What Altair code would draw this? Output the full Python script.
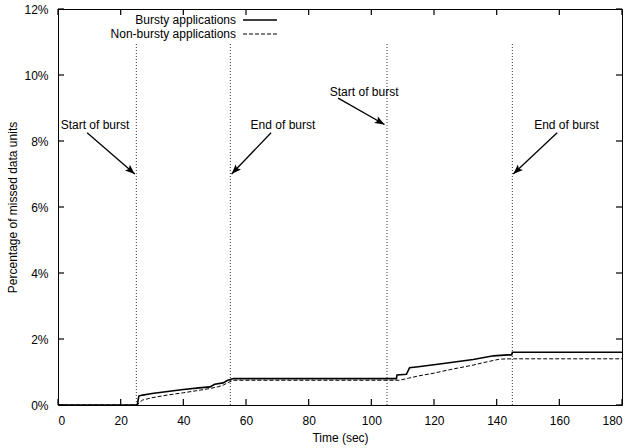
import math
import altair as alt
import pandas as pd

# ---- data ----
burst_t = [0, 25.3, 25.8, 27, 30, 35, 40, 45, 48.5, 50, 52.7, 54, 56, 105, 108, 108.2, 111.2, 112.2,
           115, 123, 132.5, 139, 143.5, 144.8, 145, 180]
burst_p = [0, 0, 0.27, 0.3, 0.35, 0.41, 0.47, 0.52, 0.55, 0.63, 0.67, 0.74, 0.8, 0.8, 0.8, 0.91, 0.93, 1.13,
           1.16, 1.26, 1.38, 1.49, 1.52, 1.52, 1.6, 1.6]
nb_t = [0, 25.3, 26, 27, 30, 34.8, 40, 44, 48.5, 51, 52.7, 54, 56, 105, 109, 111.8, 115, 119.7, 125,
        132.5, 137, 141, 145, 180]
nb_p = [0, 0, 0.08, 0.15, 0.22, 0.3, 0.37, 0.43, 0.5, 0.55, 0.6, 0.67, 0.75, 0.75, 0.75, 0.81, 0.88,
        0.96, 1.07, 1.21, 1.31, 1.39, 1.4, 1.4]
series_names = ["Bursty applications", "Non-bursty applications"]

burst_marks = [25, 55, 105, 145]
label_texts = ["Start of burst", "End of burst", "Start of burst", "End of burst"]
label_t = [11.8, 71.8, 97.7, 162.3]
label_p = [8.5, 8.5, 9.5, 8.5]
arrow_t0 = [9.3, 68.0, 89.4, 159.3]
arrow_p0 = [8.25, 8.25, 9.3, 8.25]
arrow_t1 = [24.5, 55.4, 104.2, 145.3]
arrow_p1 = [7.0, 7.0, 8.5, 7.0]

x_ticks = list(range(0, 181, 20))
y_ticks = list(range(0, 13, 2))

W, H = 564, 396
FONT = "Liberation Sans"
TICK = 6

xs = alt.Scale(domain=[0, 180], nice=False, zero=False)
ys = alt.Scale(domain=[0, 12], nice=False, zero=False)
common = dict(grid=False, domain=False, ticks=False, labelFont=FONT, titleFont=FONT, labelFontSize=12,
              titleFontSize=12, labelColor="black", titleColor="black", titleFontWeight="normal")
xaxis = alt.Axis(values=x_ticks, title="Time (sec)", labelPadding=10, titlePadding=6, **common)
yaxis = alt.Axis(values=y_ticks, title="Percentage of missed data units", labelPadding=10,
                 titlePadding=4, labelExpr="datum.value + '%'", **common)


def X(field="t"):
    return alt.X(f"{field}:Q", scale=xs, axis=xaxis)


def Y(field="p"):
    return alt.Y(f"{field}:Q", scale=ys, axis=yaxis)


bdf = pd.DataFrame({"t": burst_t, "p": burst_p, "i": range(len(burst_t))})
ndf = pd.DataFrame({"t": nb_t, "p": nb_p, "i": range(len(nb_t))})

line_b = alt.Chart(bdf).mark_line(color="black", strokeWidth=1.6, clip=True).encode(
    x=X(), y=Y(), order="i:Q")
line_n = alt.Chart(ndf).mark_line(color="black", strokeWidth=1, strokeDash=[4, 2], clip=True).encode(
    x=X(), y=Y(), order="i:Q")

vdf = pd.DataFrame({"t": burst_marks})
vlines = alt.Chart(vdf).mark_rule(color="#333333", strokeWidth=1, strokeDash=[1, 2]).encode(
    x=X(), y=alt.value(35), y2=alt.value(H))

ldf = pd.DataFrame({"t": label_t, "p": label_p, "txt": label_texts})
labels = alt.Chart(ldf).mark_text(font=FONT, fontSize=12, color="black", align="center",
                                  baseline="middle").encode(x=X(), y=Y(), text="txt:N")

adf = pd.DataFrame({"t": arrow_t0, "p": arrow_p0, "t2": arrow_t1, "p2": arrow_p1})
arrows = alt.Chart(adf).mark_rule(color="black", strokeWidth=1.3).encode(
    x=X(), y=Y(), x2="t2:Q", y2="p2:Q")

sx, sy = W / 180.0, H / 12.0
angles = []
for a, b, c, d in zip(arrow_t0, arrow_p0, arrow_t1, arrow_p1):
    dx = (c - a) * sx
    dy = -(d - b) * sy
    ang = math.degrees(math.atan2(dx, -dy)) % 360
    angles.append(ang)
hdf = pd.DataFrame({"t": arrow_t1, "p": arrow_p1, "ang": angles})
heads = alt.Chart(hdf).mark_point(shape="M0,0L-0.38,1L0,0.8L0.38,1Z", filled=True, color="black",
                                  size=380, opacity=1, strokeWidth=0).encode(
    x=X(), y=Y(), angle=alt.Angle("ang:Q", scale=None))

# inward tick marks on all four sides
xtdf = pd.DataFrame({"tk": x_ticks})
ytdf = pd.DataFrame({"pk": y_ticks})
tb = alt.Chart(xtdf).mark_rule(color="black", strokeWidth=1.2).encode(
    x=X("tk"), y=alt.value(H - TICK), y2=alt.value(H))
tt = alt.Chart(xtdf).mark_rule(color="black", strokeWidth=1.2).encode(
    x=X("tk"), y=alt.value(0), y2=alt.value(TICK))
tl = alt.Chart(ytdf).mark_rule(color="black", strokeWidth=1.2).encode(
    y=Y("pk"), x=alt.value(0), x2=alt.value(TICK))
tr = alt.Chart(ytdf).mark_rule(color="black", strokeWidth=1.2).encode(
    y=Y("pk"), x=alt.value(W - TICK), x2=alt.value(W))

# key in the top-left
key_layers = []
key_y = [11, 25]
key_dash = [[1, 0], [4, 2]]
key_w = [1.6, 1]
for name, yy, dash, sw in zip(series_names, key_y, key_dash, key_w):
    kdf = pd.DataFrame({"name": [name]})
    key_layers.append(alt.Chart(kdf).mark_text(font=FONT, fontSize=12, color="black", align="right",
                                               baseline="middle").encode(
        text="name:N", x=alt.value(178), y=alt.value(yy)))
    key_layers.append(alt.Chart(kdf).mark_rule(color="black", strokeWidth=sw, strokeDash=dash).encode(
        x=alt.value(185), x2=alt.value(219), y=alt.value(yy), detail="name:N"))

chart = alt.layer(vlines, line_n, line_b, arrows, heads, labels, tb, tt, tl, tr, *key_layers).properties(
    width=W, height=H,
    autosize=alt.AutoSizeParams(type="none"),
    padding={"left": 58, "top": 9, "right": 11, "bottom": 43},
    background="white",
).configure_view(stroke="black", strokeWidth=1)

chart.save("out.html", embed_options={"renderer": "svg", "actions": False})
